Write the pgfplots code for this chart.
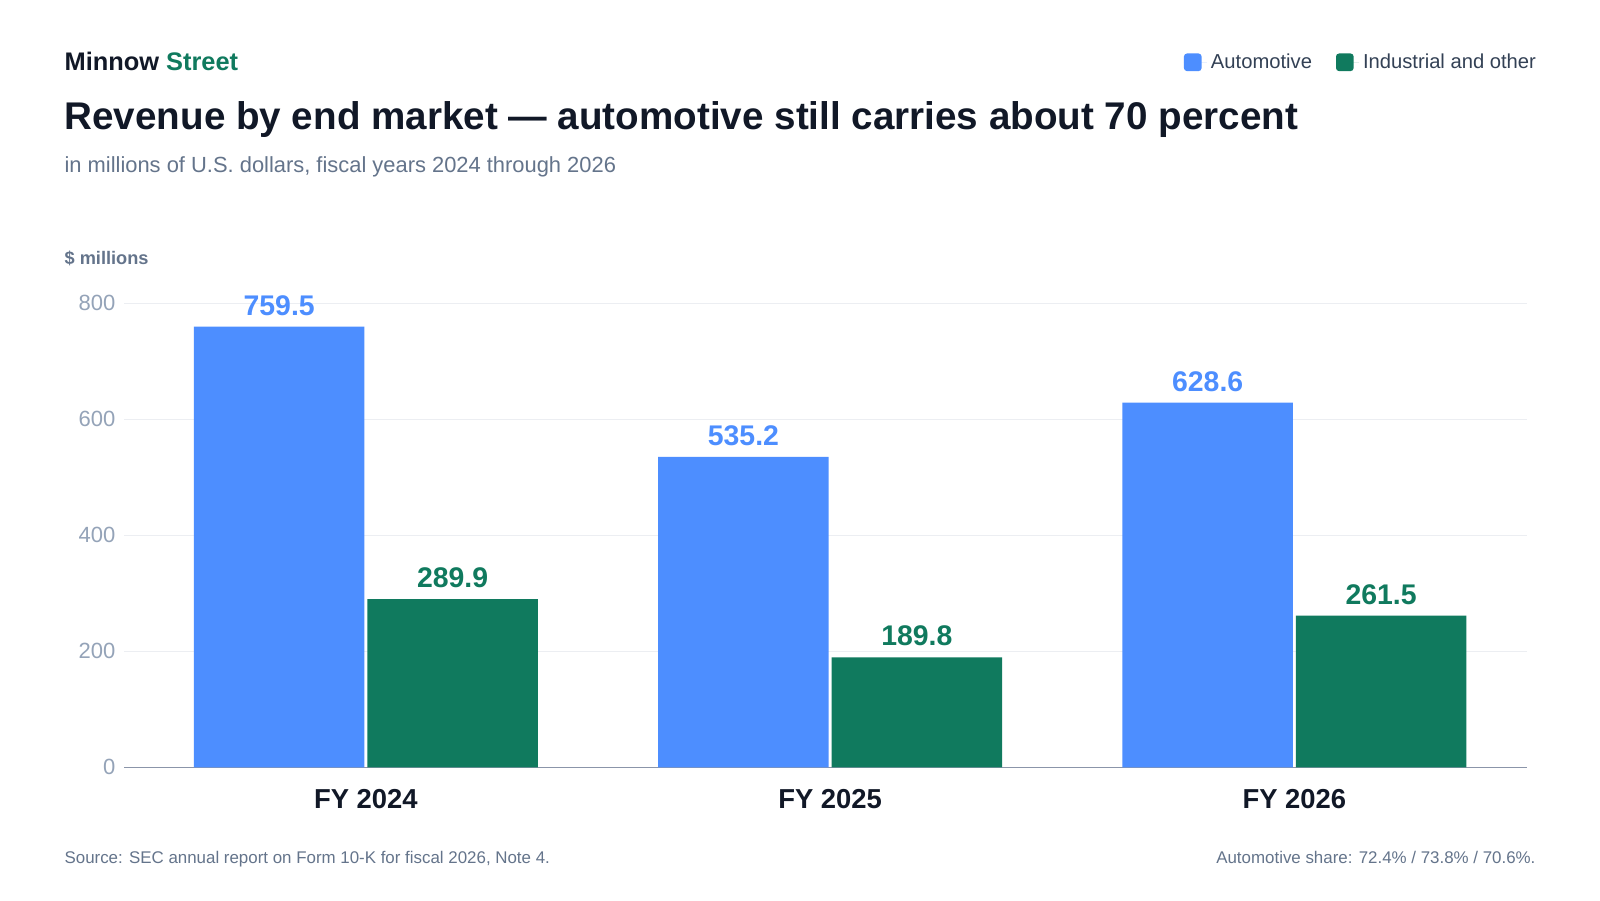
\documentclass[border=0pt]{standalone}
\usepackage{pgfplots}
\pgfplotsset{compat=1.18}
\usepackage{fontspec}
\setmainfont{Liberation Sans}
\definecolor{autoblue}{HTML}{4D8EFF}
\definecolor{indgreen}{HTML}{107A5E}
\definecolor{darktxt}{HTML}{111827}
\definecolor{subgray}{HTML}{64748B}
\definecolor{tickgray}{HTML}{94A3B8}
\definecolor{legtxt}{HTML}{334155}
\definecolor{gridc}{HTML}{ECEEF2}
\definecolor{axisc}{HTML}{8B95A9}
\begin{document}
\begin{tikzpicture}
\fill[white] (0,0) rectangle (800pt,450pt);
\node[anchor=west, inner sep=0pt, font=\fontsize{12.7}{14}\selectfont\bfseries] at (32.1pt,419.4pt) {\textcolor{darktxt}{Minnow} \textcolor{indgreen}{Street}};
\node[anchor=west, inner sep=0pt, text=darktxt, font=\fontsize{19.3}{22}\selectfont\bfseries] at (32.1pt,390.3pt) {Revenue by end market — automotive still carries about 70 percent};
\node[anchor=west, inner sep=0pt, text=subgray, font=\fontsize{10.95}{12}\selectfont] at (32.1pt,366.4pt) {in millions of U.S. dollars, fiscal years 2024 through 2026};
\node[anchor=west, inner sep=0pt, text=subgray, font=\fontsize{9.1}{11}\selectfont\bfseries] at (32.1pt,320.9pt) {\$ millions};
\node[anchor=west, inner sep=0pt, text=subgray, font=\fontsize{8.45}{10}\selectfont] at (32.1pt,20.4pt) {Source: SEC annual report on Form 10-K for fiscal 2026, Note 4.};
\node[anchor=east, inner sep=0pt, text=subgray, font=\fontsize{8.45}{10}\selectfont] at (767.9pt,21.4pt) {Automotive share: 72.4\% / 73.8\% / 70.6\%.};
\begin{axis}[
  at={(62.24pt,66.3pt)}, anchor=south west,
  scale only axis, width=701pt, height=232.1pt,
  xmin=-0.52, xmax=2.5, ymin=0, ymax=800,
  ybar=1.5pt, bar width=85.2pt,
  xtick={0,1,2}, xticklabels={FY 2024,FY 2025,FY 2026},
  ytick={0,200,400,600,800},
  ymajorgrids, grid style={color=gridc, line width=0.6pt},
  axis lines*=left,
  y axis line style={draw=none},
  x axis line style={draw=axisc, line width=0.75pt},
  major tick length=0pt,
  /pgf/number format/assume math mode=true,
  yticklabel style={text=tickgray, font=\fontsize{11}{12}\selectfont, xshift=-1pt},
  xticklabel style={text=darktxt, font=\fontsize{13.7}{15}\selectfont\bfseries, yshift=-7.5pt},
  legend columns=2,
  legend style={at={(1.0096,1.519)}, anchor=east, draw=none, fill=none, inner sep=0pt, outer sep=0pt,
    font=\fontsize{10.1}{11}\selectfont, text=legtxt,
    /tikz/every even column/.append style={column sep=10pt}},
  legend image code/.code={\fill[#1, rounded corners=1.5pt] (0pt,-4.4pt) rectangle (8.8pt,4.4pt);\path (0pt,0pt) -- (11.5pt,0pt);},
  nodes near coords={\pgfmathprintnumber[assume math mode=true, fixed, fixed zerofill, precision=1]{\pgfplotspointmeta}},
]
\addplot[fill=autoblue, draw=none, every node near coord/.append style={text=autoblue, font=\fontsize{14.2}{15}\selectfont\bfseries, yshift=2pt}] coordinates {(0,759.5) (1,535.2) (2,628.6)};
\addplot[fill=indgreen, draw=none, every node near coord/.append style={text=indgreen, font=\fontsize{14.2}{15}\selectfont\bfseries, yshift=2pt}] coordinates {(0,289.9) (1,189.8) (2,261.5)};
\legend{Automotive, Industrial and other}
\end{axis}
\pgfresetboundingbox
\useasboundingbox (0,0) rectangle (800pt,450pt);
\end{tikzpicture}
\end{document}
